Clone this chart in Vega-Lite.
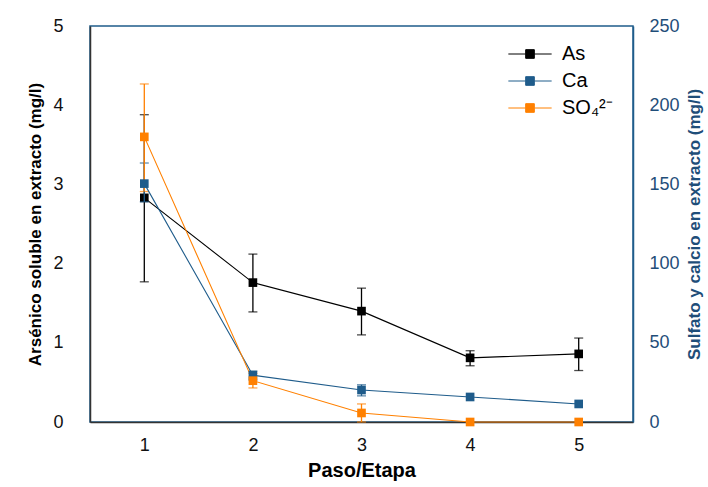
{
  "$schema": "https://vega.github.io/schema/vega-lite/v6.json",
  "width": 543,
  "height": 396,
  "autosize": {"type": "none"},
  "padding": {"left": 90, "top": 26, "right": 75, "bottom": 65},
  "background": "white",
  "config": {
    "font": "Liberation Sans",
    "view": {"stroke": "#1F5C8B", "strokeWidth": 1.5},
    "axis": {"grid": false, "ticks": false, "labelFont": "Liberation Sans", "titleFont": "Liberation Sans", "labelFontSize": 18, "titleFontSize": 17, "titleFontWeight": "bold"},
    "legend": {"labelFont": "Liberation Sans", "title": null, "orient": "none", "legendX": 430, "legendY": 18, "symbolType": "M-2.5,0L-0.5,0M0.5,0L2.5,0M-0.5,-0.5L0.5,-0.5L0.5,0.5L-0.5,0.5Z", "symbolSize": 300, "symbolStrokeWidth": 1, "symbolOpacity": 1, "labelFontSize": 20, "labelColor": "#000000", "labelOffset": 22, "rowPadding": 7}
  },
  "data": {
    "values": [
      {"paso": 1, "serie": "As", "valor": 2.83, "lo": 1.77, "hi": 3.88},
      {"paso": 2, "serie": "As", "valor": 1.76, "lo": 1.39, "hi": 2.12},
      {"paso": 3, "serie": "As", "valor": 1.40, "lo": 1.10, "hi": 1.69},
      {"paso": 4, "serie": "As", "valor": 0.81, "lo": 0.71, "hi": 0.90},
      {"paso": 5, "serie": "As", "valor": 0.86, "lo": 0.65, "hi": 1.06},
      {"paso": 1, "serie": "Ca", "valor": 150.5, "lo": 139, "hi": 163.5},
      {"paso": 2, "serie": "Ca", "valor": 29.5, "lo": 26.5, "hi": 32.2},
      {"paso": 3, "serie": "Ca", "valor": 20.2, "lo": 16.5, "hi": 23.5},
      {"paso": 4, "serie": "Ca", "valor": 15.8, "lo": null, "hi": null},
      {"paso": 5, "serie": "Ca", "valor": 11.4, "lo": null, "hi": null},
      {"paso": 1, "serie": "SO₄²⁻", "valor": 180, "lo": 145.5, "hi": 213.4},
      {"paso": 2, "serie": "SO₄²⁻", "valor": 26.1, "lo": 21.5, "hi": 30.7},
      {"paso": 3, "serie": "SO₄²⁻", "valor": 5.7, "lo": 0, "hi": 11.4},
      {"paso": 4, "serie": "SO₄²⁻", "valor": 0, "lo": null, "hi": null},
      {"paso": 5, "serie": "SO₄²⁻", "valor": 0, "lo": null, "hi": null}
    ]
  },
  "encoding": {
    "x": {
      "field": "paso", "type": "quantitative",
      "scale": {"domain": [0.5, 5.5], "nice": false, "zero": false},
      "axis": {"title": "Paso/Etapa", "values": [1, 2, 3, 4, 5], "format": "d", "domainColor": "#333333", "domainWidth": 1.5, "labelColor": "#111111", "labelPadding": 14, "titlePadding": 6, "titleColor": "#000000", "titleFontSize": 20}
    },
    "color": {"field": "serie", "type": "nominal", "scale": {"domain": ["As", "Ca", "SO₄²⁻"], "range": ["#000000", "#1F5C8B", "#FF8000"]}}
  },
  "layer": [
    {
      "transform": [{"filter": "datum.serie == 'As'"}],
      "layer": [
        {
          "transform": [{"filter": "datum.lo != null"}],
          "mark": {"type": "errorbar", "ticks": {"size": 9}, "thickness": 1.3},
          "encoding": {
            "y": {"field": "lo", "type": "quantitative", "scale": {"domain": [0, 5], "nice": false}, "title": "Arsénico soluble en extracto (mg/l)"},
            "y2": {"field": "hi"}
          }
        },
        {
          "mark": {"type": "line", "strokeWidth": 1.1},
          "encoding": {
            "y": {"field": "valor", "type": "quantitative", "scale": {"domain": [0, 5], "nice": false}, "title": "Arsénico soluble en extracto (mg/l)",
              "axis": {"values": [0, 1, 2, 3, 4, 5], "format": "d", "domainColor": "#333333", "domainWidth": 1.5, "labelColor": "#111111", "labelPadding": 27, "titlePadding": 8, "titleColor": "#000000"}}
          }
        },
        {
          "mark": {"type": "point", "shape": "square", "filled": true, "opacity": 1, "size": 75},
          "encoding": {
            "y": {"field": "valor", "type": "quantitative", "scale": {"domain": [0, 5], "nice": false}, "title": "Arsénico soluble en extracto (mg/l)"}
          }
        }
      ]
    },
    {
      "transform": [{"filter": "datum.serie != 'As'"}],
      "layer": [
        {
          "transform": [{"filter": "datum.lo != null"}],
          "mark": {"type": "errorbar", "ticks": {"size": 9}, "thickness": 1.3},
          "encoding": {
            "y": {"field": "lo", "type": "quantitative", "scale": {"domain": [0, 250], "nice": false}, "title": "Sulfato y calcio en extracto (mg/l)"},
            "y2": {"field": "hi"}
          }
        },
        {
          "mark": {"type": "line", "strokeWidth": 1.1},
          "encoding": {
            "y": {"field": "valor", "type": "quantitative", "scale": {"domain": [0, 250], "nice": false}, "title": "Sulfato y calcio en extracto (mg/l)",
              "axis": {"orient": "right", "values": [0, 50, 100, 150, 200, 250], "domainColor": "#1F5C8B", "domainWidth": 1.5, "labelColor": "#1F4E79", "titleColor": "#1F4E79", "titleAngle": 270, "titleBaseline": "top", "labelPadding": 16, "titlePadding": 7}}
          }
        },
        {
          "mark": {"type": "point", "shape": "square", "filled": true, "opacity": 1, "size": 75},
          "encoding": {
            "y": {"field": "valor", "type": "quantitative", "scale": {"domain": [0, 250], "nice": false}, "title": "Sulfato y calcio en extracto (mg/l)"}
          }
        }
      ]
    }
  ],
  "resolve": {"scale": {"y": "independent"}, "axis": {"y": "independent"}}
}
